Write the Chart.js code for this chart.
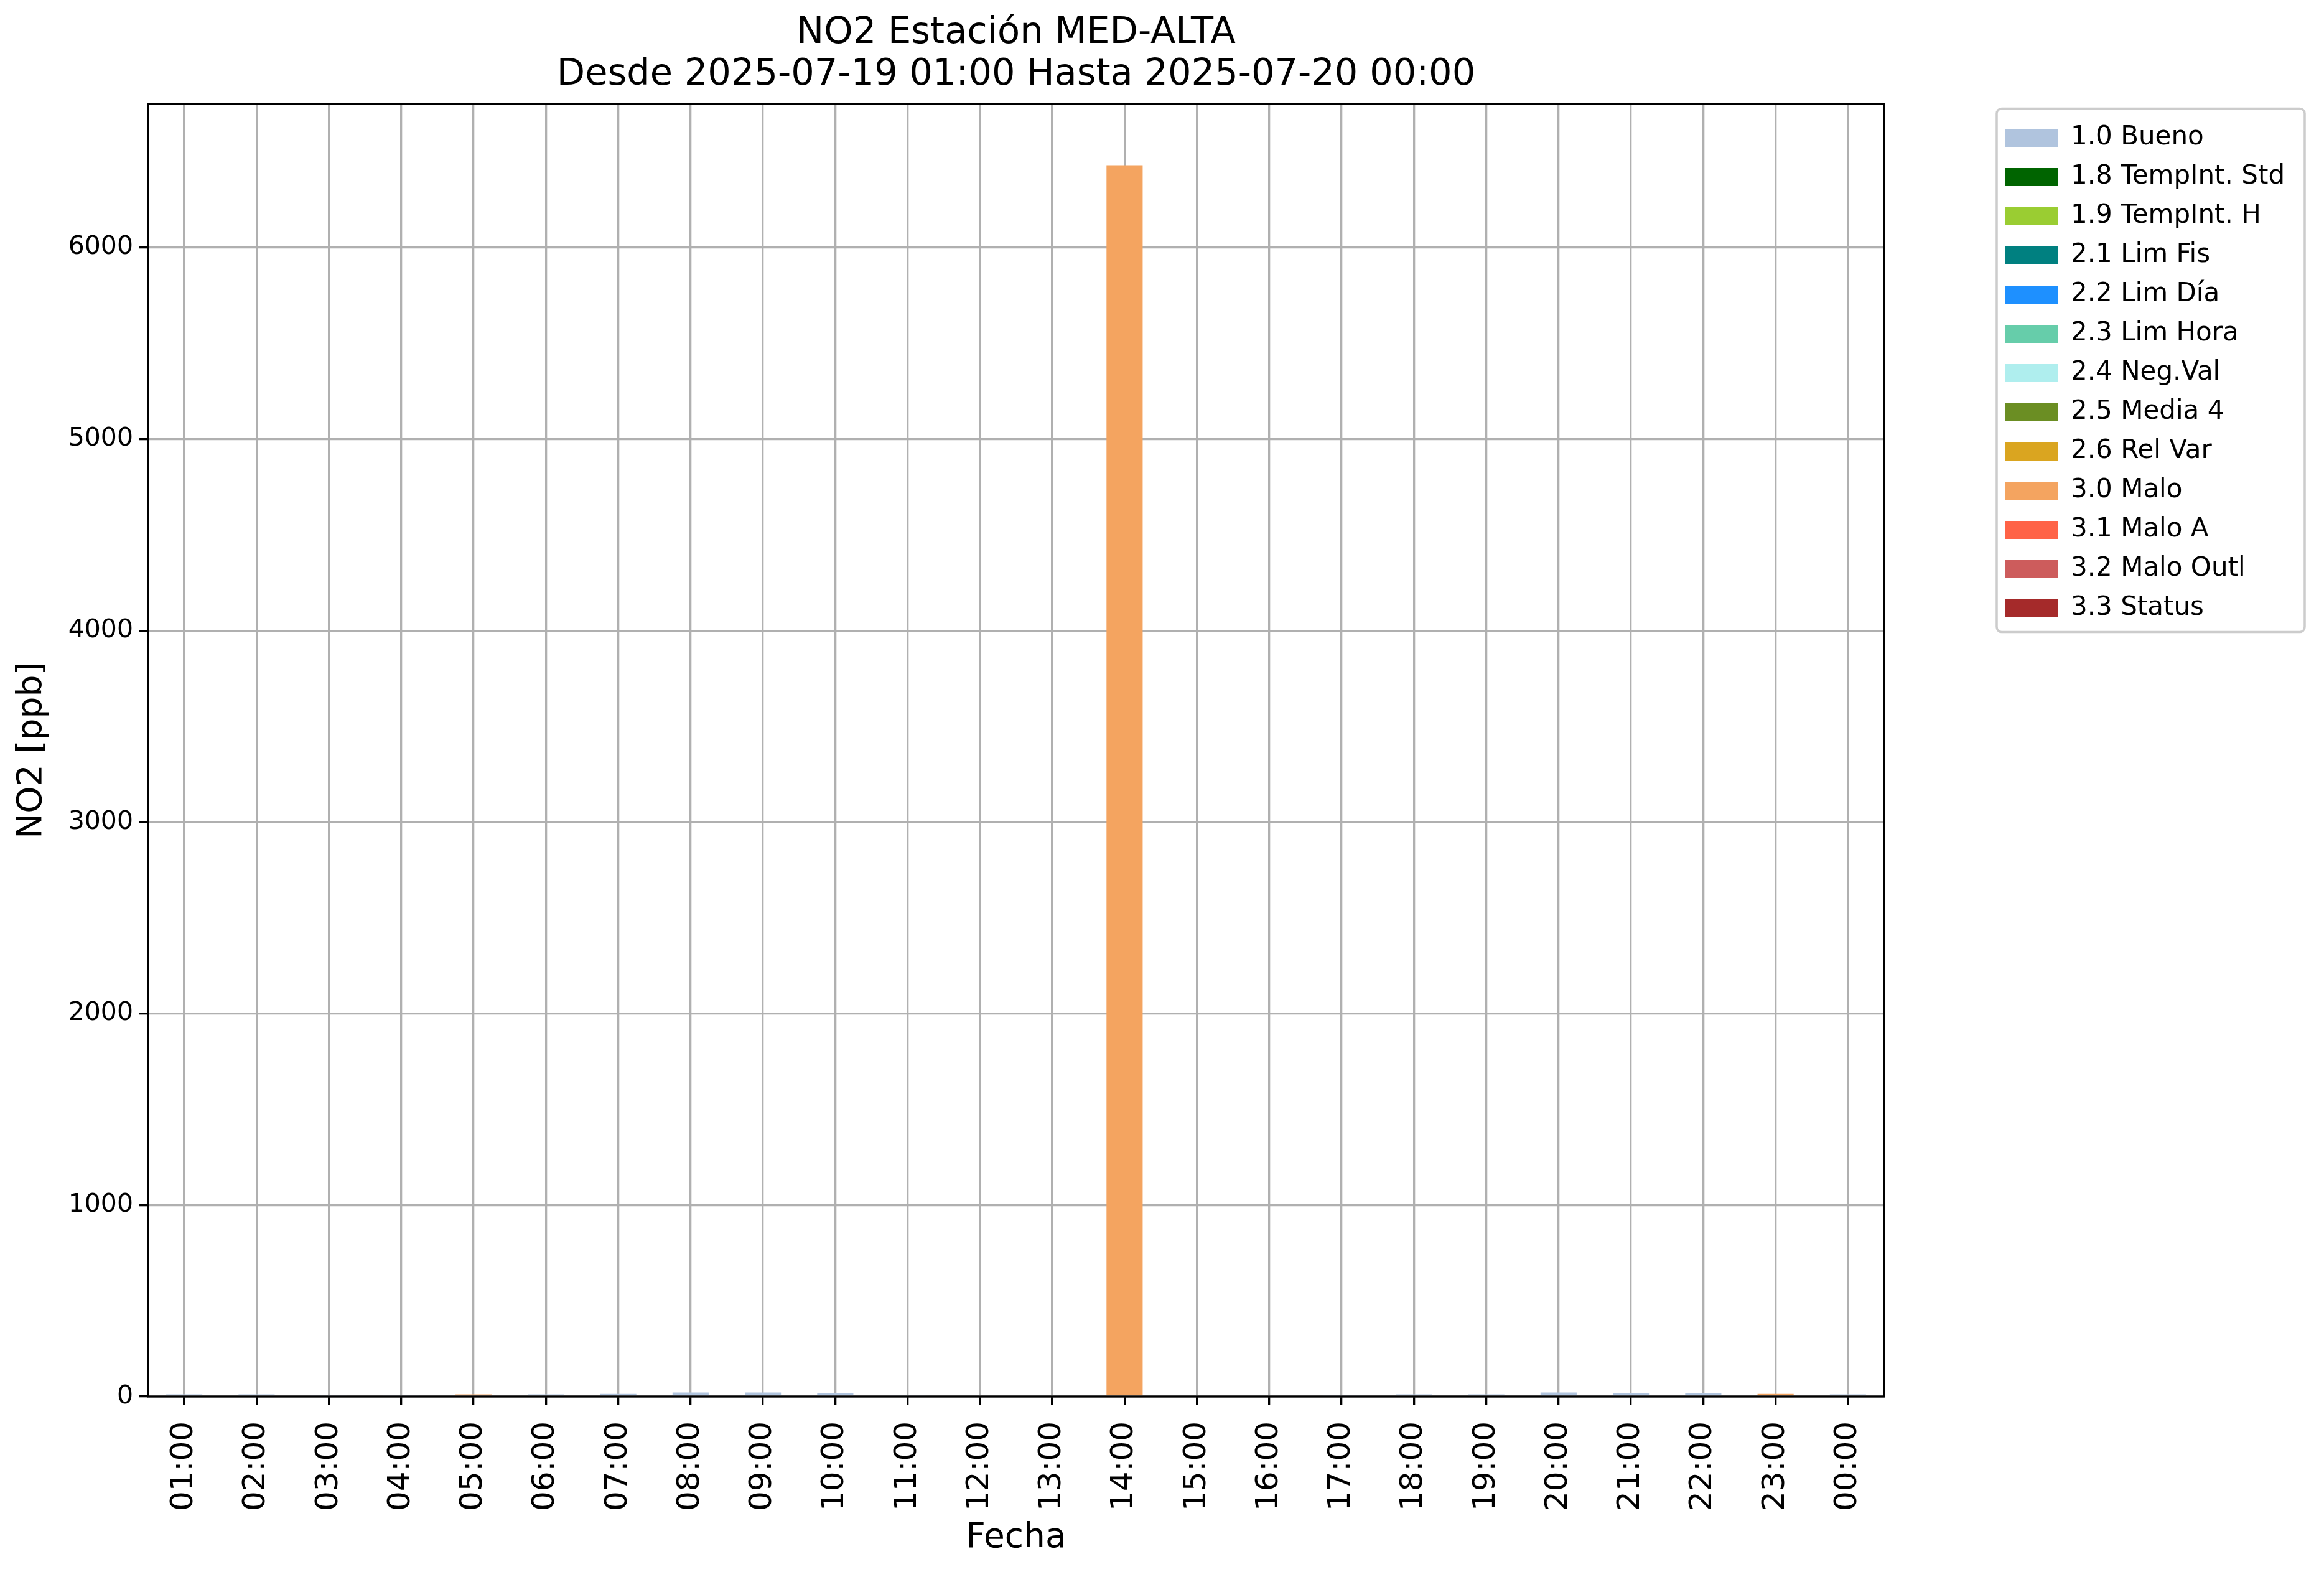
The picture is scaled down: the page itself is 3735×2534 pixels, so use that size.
<!DOCTYPE html>
<html>
<head>
<meta charset="utf-8">
<title>NO2 Estación MED-ALTA</title>
<script src="https://cdn.jsdelivr.net/npm/chart.js@4.4.0/dist/chart.umd.min.js"></script>
<style>
  html, body { margin: 0; padding: 0; background: #ffffff; }
  #wrap { width: 3735px; height: 2534px; }
</style>
</head>
<body>
<div id="wrap"><canvas id="no2-chart" width="3735" height="2534"></canvas></div>
<script>
// --- DATA ---
const hours = ['01:00', '02:00', '03:00', '04:00', '05:00', '06:00', '07:00', '08:00',
               '09:00', '10:00', '11:00', '12:00', '13:00', '14:00', '15:00', '16:00',
               '17:00', '18:00', '19:00', '20:00', '21:00', '22:00', '23:00', '00:00'];

const flagLabels = ['1.0 Bueno', '1.8 TempInt. Std', '1.9 TempInt. H', '2.1 Lim Fis',
                    '2.2 Lim Día', '2.3 Lim Hora', '2.4 Neg.Val', '2.5 Media 4',
                    '2.6 Rel Var', '3.0 Malo', '3.1 Malo A', '3.2 Malo Outl', '3.3 Status'];

const flagColors = ['#b0c4de', '#006400', '#9acd32', '#008080', '#1e90ff', '#66cdaa',
                    '#afeeee', '#6b8e23', '#daa520', '#f4a460', '#ff6347', '#cd5c5c', '#a52a2a'];

// NO2 [ppb] per hour for each flag (only "Bueno" and "Malo" have values)
const bueno = [11, 11, 7, 7, 0, 11, 14, 21, 21, 17, 7, 0, 0, 0, 0, 0, 7, 11, 11, 21, 17, 17, 0, 11];
const malo  = [0, 0, 0, 0, 11, 0, 0, 0, 0, 0, 0, 0, 0, 6430, 0, 0, 0, 0, 0, 0, 0, 0, 14, 0];
const empty = [0, 0, 0, 0, 0, 0, 0, 0, 0, 0, 0, 0, 0, 0, 0, 0, 0, 0, 0, 0, 0, 0, 0, 0];

const flagValues = [bueno, empty, empty, empty, empty, empty, empty, empty, empty,
                    malo, empty, empty, empty];

const yTicks = [0, 1000, 2000, 3000, 4000, 5000, 6000];
const yMax = 6750;

// --- LAYOUT (pixels) ---
const Y_AXIS_WIDTH = 238;
const X_AXIS_HEIGHT = 290;
const LEGEND_SLOT = 707;     // space right of the plot
const LEGEND_GAP = 174;      // gap plot -> legend
const GRID_W = 3.3;

Chart.defaults.font.family = "'DejaVu Sans', sans-serif";
Chart.defaults.color = '#000';

// legend keeps a fixed slot and sits a bit away from the plot
const legendPlace = {
    id: 'legendPlace',
    beforeInit(chart) {
        const fit = chart.legend.fit;
        chart.legend.fit = function () {
            fit.call(this);
            this.width = LEGEND_SLOT;
        };
    },
    afterLayout(chart) {
        const lg = chart.legend;
        const w = lg.width;
        lg.left = chart.chartArea.right + LEGEND_GAP;
        lg.right = lg.left + w;
        lg.top = chart.chartArea.top + 12.5;
    },
    beforeDraw(chart) {
        // matplotlib-like legend frame
        const lg = chart.legend;
        const ctx = chart.ctx;
        const n = lg.legendItems.length;
        const x = chart.chartArea.right + 181, y = lg.top - 5;
        const w = 495, h = n * 63 + 22;
        ctx.save();
        ctx.beginPath();
        ctx.roundRect(x, y, w, h, 8);
        ctx.fillStyle = 'rgba(255,255,255,0.8)';
        ctx.fill();
        ctx.lineWidth = 3.5;
        ctx.strokeStyle = '#cccccc';
        ctx.stroke();
        ctx.restore();
    },
    afterDraw(chart) {
        // axes frame
        const {left, top, right, bottom} = chart.chartArea;
        const ctx = chart.ctx;
        ctx.save();
        ctx.lineWidth = GRID_W;
        ctx.strokeStyle = '#000';
        ctx.strokeRect(left, top, right - left, bottom - top);
        ctx.restore();
    }
};

const ctx = document.getElementById('no2-chart').getContext('2d');

const no2Chart = new Chart(ctx, {
    type: 'bar',
    data: {
        labels: hours,
        datasets: flagLabels.map((label, i) => ({
            label: label,
            data: flagValues[i],
            backgroundColor: flagColors[i],
            borderWidth: 0,
            barPercentage: 0.5,
            categoryPercentage: 1.0
        }))
    },
    options: {
        responsive: false,
        devicePixelRatio: 1,
        animation: false,
        layout: { padding: 0 },
        plugins: {
            title: {
                display: true,
                text: ['NO2 Estación MED-ALTA', 'Desde 2025-07-19 01:00 Hasta 2025-07-20 00:00'],
                font: { size: 59, weight: 'normal', lineHeight: '67px' },
                color: '#000',
                padding: { top: 20.5, bottom: 12.5 },
                fullSize: false
            },
            legend: {
                position: 'right',
                align: 'start',
                labels: {
                    font: { size: 42 },
                    color: '#000',
                    boxWidth: 84,
                    boxHeight: 29,
                    padding: 21
                }
            },
            tooltip: { enabled: false }
        },
        scales: {
            x: {
                stacked: true,
                offset: true,
                z: 1,
                afterFit: (scale) => { scale.height = X_AXIS_HEIGHT; },
                ticks: {
                    font: { size: 50 },
                    color: '#000',
                    minRotation: 90,
                    maxRotation: 90,
                    autoSkip: false,
                    padding: 26
                },
                grid: {
                    offset: false,
                    color: '#b0b0b0',
                    lineWidth: GRID_W,
                    tickColor: '#000',
                    tickLength: 14,
                    tickWidth: GRID_W
                },
                border: { display: false },
                title: {
                    display: true,
                    text: 'Fecha',
                    font: { size: 55 },
                    color: '#000',
                    padding: { top: 0, bottom: 29 }
                }
            },
            y: {
                stacked: true,
                min: 0,
                max: yMax,
                z: 1,
                afterFit: (scale) => { scale.width = Y_AXIS_WIDTH; },
                afterBuildTicks: (axis) => { axis.ticks = yTicks.map(v => ({ value: v })); },
                ticks: {
                    font: { size: 41 },
                    color: '#000',
                    padding: 10,
                    callback: (value) => String(value)
                },
                grid: {
                    color: '#b0b0b0',
                    lineWidth: GRID_W,
                    tickColor: '#000',
                    tickLength: 14,
                    tickWidth: GRID_W
                },
                border: { display: false },
                title: {
                    display: true,
                    text: 'NO2 [ppb]',
                    font: { size: 55 },
                    color: '#000',
                    padding: { top: 19, bottom: 0 }
                }
            }
        }
    },
    plugins: [legendPlace]
});
</script>
</body>
</html>
